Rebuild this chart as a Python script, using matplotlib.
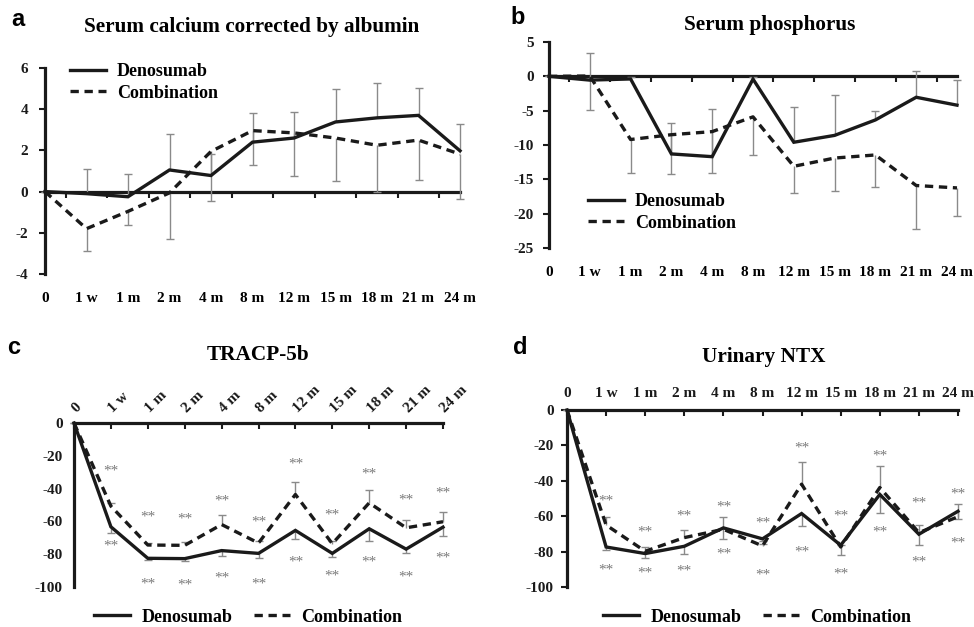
import numpy as np
import matplotlib
matplotlib.use("Agg")
import matplotlib.pyplot as plt

# ---------------- data ----------------
timepoints = ["0", "1 w", "1 m", "2 m", "4 m", "8 m", "12 m", "15 m", "18 m", "21 m", "24 m"]

# (a) Serum calcium corrected by albumin
ca_den = [0, -0.1, -0.25, 1.05, 0.78, 2.4, 2.6, 3.38, 3.58, 3.7, 1.98]
ca_comb = [0, -1.8, -0.96, -0.06, 1.95, 2.96, 2.85, 2.6, 2.25, 2.5, 1.82]
ca_den_sd = [0, 1.2, 1.1, 1.73, 1.06, 1.42, 1.25, 1.62, 1.7, 1.33, 1.32]
ca_comb_sd = [0, 1.08, 0.66, 2.24, 2.42, 1.68, 2.07, 2.1, 2.25, 1.95, 2.19]

# (b) Serum phosphorus
p_den = [0, -0.55, -0.38, -11.3, -11.7, -0.4, -9.6, -8.6, -6.35, -3.05, -4.2]
p_comb = [0, 0.05, -9.2, -8.5, -8.05, -5.9, -13.1, -11.9, -11.45, -15.9, -16.25]
p_den_sd = [0, 3.9, 0.3, 4.5, 7.0, 0.3, 5.1, 5.9, 1.35, 3.8, 3.7]
p_comb_sd = [0, 4.95, 4.85, 5.7, 6.05, 5.5, 3.9, 4.8, 4.6, 6.3, 4.15]

# (c) TRACP-5b
tr_den = [0, -63.3, -82.5, -82.7, -77.8, -79.5, -65.5, -79.5, -64.5, -76.9, -63.5]
tr_comb = [0, -50.7, -74.4, -74.6, -61.9, -73.2, -43.6, -73.6, -48.7, -63.9, -60.2]
tr_den_sd = [0, 3.5, 0.8, 1.5, 3.0, 2.6, 5.2, 2.0, 7.5, 2.3, 5.5]
tr_comb_sd = [0, 2.0, 1.5, 2.2, 5.7, 1.5, 7.7, 1.5, 8.1, 4.7, 6.1]
tr_sig_hi = [None, -29.4, -57.2, -58.4, -47.7, -60.5, -24.8, -56.4, -31.4, -46.7, -43.0]
tr_sig_lo = [None, -75.1, -98.5, -99.0, -94.3, -97.9, -84.5, -93.3, -84.5, -93.9, -82.1]

# (d) Urinary NTX
ntx_den = [0, -77.4, -81.1, -77.0, -66.6, -72.8, -58.5, -76.4, -47.7, -70.2, -57.2]
ntx_comb = [0, -65.0, -79.8, -72.1, -67.4, -76.8, -41.9, -77.4, -43.8, -69.3, -60.3]
ntx_den_sd = [0, 1.8, 2.5, 4.1, 6.0, 1.0, 7.0, 5.7, 10.6, 5.9, 4.4]
ntx_comb_sd = [0, 4.3, 2.4, 4.2, 7.0, 1.0, 12.6, 1.0, 12.3, 4.6, 7.1]
ntx_sig_hi = [None, -51.3, -68.9, -60.1, -54.9, -64.1, -21.3, -60.1, -25.9, -52.5, -47.5]
ntx_sig_lo = [None, -90.2, -91.9, -91.1, -81.5, -93.1, -80.2, -92.5, -68.9, -85.8, -75.1]

series_names = ["Denosumab", "Combination"]
titles = ["Serum calcium corrected by albumin", "Serum phosphorus", "TRACP-5b", "Urinary NTX"]
panel_letters = ["a", "b", "c", "d"]

# ---------------- style ----------------
W, H = 974, 627
SERIF = ["Liberation Serif", "DejaVu Serif"]
SANS = ["Liberation Sans", "DejaVu Sans"]
LINE_C = "#1a1a1a"
ERR_C = "#8a8a8a"
STAR_C = "#7a7a7a"
LW = 2.4
DASH = (2.5, 1.7)
TICK_FS = 11
LEG_FS = 13
TITLE_FS = 15.3

plt.rcParams["font.family"] = SERIF
plt.rcParams["font.weight"] = "bold"

fig = plt.figure(figsize=(W / 100, H / 100), dpi=100)


def fx(px):
    return px / W


def fy(py):
    return 1 - py / H


def add_ax(x0, x1, ytop, ybot):
    return fig.add_axes([fx(x0), fy(ybot), fx(x1) - fx(x0), (ybot - ytop) / H])


x = np.arange(len(timepoints))
LEG_PROP = {"family": SERIF, "weight": "bold", "size": LEG_FS}


def draw_err(ax, vals, sds, direction):
    vals = np.asarray(vals, float)
    sds = np.asarray(sds, float)
    ends = vals + direction * sds
    ax.vlines(x, vals, ends, colors=ERR_C, linewidth=1.0, zorder=2, clip_on=False)
    ax.plot(x, ends, linestyle="none", marker="_", markersize=6, markeredgewidth=1.0,
            color=ERR_C, zorder=2, clip_on=False)


def draw_lines(ax, den, comb):
    l1, = ax.plot(x, den, color=LINE_C, lw=LW, zorder=4, clip_on=False,
                  solid_joinstyle="miter")
    l2, = ax.plot(x, comb, color=LINE_C, lw=LW, zorder=4, clip_on=False,
                  linestyle=(0, DASH))
    return l1, l2


def style_yaxis(ax, ticks, ticklen=4, pad=3):
    ax.set_yticks(ticks)
    ax.set_yticklabels([str(t) for t in ticks], fontsize=TICK_FS, fontweight="bold")
    ax.tick_params(axis="y", direction="out", length=ticklen, width=1.5, pad=pad, colors=LINE_C)
    ax.spines["left"].set_linewidth(2.3)
    ax.spines["left"].set_color(LINE_C)
    ax.spines["right"].set_visible(False)


def bottom_label_panel(ax, ymin, ymax):
    # category labels at the bottom, zero line with boundary ticks
    ax.set_xlim(0, 10)
    ax.set_ylim(ymin, ymax)
    ax.spines["top"].set_visible(False)
    ax.spines["bottom"].set_visible(False)
    ax.set_xticks(x)
    ax.set_xticklabels(timepoints, fontsize=TICK_FS, fontweight="bold")
    ax.tick_params(axis="x", length=0, pad=13)
    loc = (0 - ymin) / (ymax - ymin)
    sec = ax.secondary_xaxis(loc)
    sec.set_alignment("bottom")
    sec.set_xticks(np.arange(0.5, 10, 1.0))
    sec.tick_params(axis="x", direction="out", length=4, width=1.5, labelbottom=False,
                    labeltop=False, colors=LINE_C)
    sec.spines["bottom"].set_linewidth(2.3)
    sec.spines["bottom"].set_color(LINE_C)
    ax.patch.set_alpha(0)


def top_label_panel(ax, rotate, pad):
    ax.set_xlim(0, 10)
    ax.set_ylim(-100, 0)
    ax.spines["bottom"].set_visible(False)
    ax.spines["top"].set_linewidth(2.3)
    ax.spines["top"].set_color(LINE_C)
    ax.xaxis.tick_top()
    ax.set_xticks(x)
    if rotate:
        ax.set_xticklabels(timepoints, fontsize=TICK_FS, fontweight="bold", rotation=45,
                           ha="left", va="center", rotation_mode="anchor")
    else:
        ax.set_xticklabels(timepoints, fontsize=TICK_FS, fontweight="bold")
    ax.tick_params(axis="x", direction="in", length=4, width=1.5, pad=pad, colors=LINE_C)
    ax.patch.set_alpha(0)


def stars(ax, hi, lo):
    for i in range(len(x)):
        for v in (hi[i], lo[i]):
            if v is not None:
                ax.text(x[i], v, "**", ha="center", va="center", fontsize=11,
                        color=STAR_C, fontweight="normal", clip_on=False)


# ---------------- panel a ----------------
axa = add_ax(45, 460, 68, 274)
bottom_label_panel(axa, -4, 6)
style_yaxis(axa, [-4, -2, 0, 2, 4, 6], pad=8)
draw_err(axa, ca_den, ca_den_sd, +1)
draw_err(axa, ca_comb, ca_comb_sd, -1)
la1, la2 = draw_lines(axa, ca_den, ca_comb)
axa.legend([la1, la2], series_names, loc="upper left",
           bbox_to_anchor=((70 - 45) / 415, (274 - 63) / 206),
           frameon=False, prop=LEG_PROP, borderaxespad=0,
           handlelength=2.0, handletextpad=0.6, labelspacing=0.25, borderpad=0)

# ---------------- panel b ----------------
axb = add_ax(549, 957, 42, 248)
bottom_label_panel(axb, -25, 5)
style_yaxis(axb, [-25, -20, -15, -10, -5, 0, 5], pad=7)
draw_err(axb, p_den, p_den_sd, +1)
draw_err(axb, p_comb, p_comb_sd, -1)
lb1, lb2 = draw_lines(axb, p_den, p_comb)
axb.legend([lb1, lb2], series_names, loc="upper left",
           bbox_to_anchor=((588 - 549) / 408, (248 - 193) / 206),
           frameon=False, prop=LEG_PROP, borderaxespad=0,
           handlelength=2.0, handletextpad=0.6, labelspacing=0.25, borderpad=0)

# ---------------- panel c ----------------
axc = add_ax(74, 443, 423, 587)
top_label_panel(axc, True, 9)
style_yaxis(axc, [-100, -80, -60, -40, -20, 0], ticklen=0, pad=8)
draw_err(axc, tr_den, tr_den_sd, -1)
draw_err(axc, tr_comb, tr_comb_sd, +1)
lc1, lc2 = draw_lines(axc, tr_den, tr_comb)
stars(axc, tr_sig_hi, tr_sig_lo)

# ---------------- panel d ----------------
axd = add_ax(567, 958, 410, 587)
top_label_panel(axd, False, 7)
style_yaxis(axd, [-100, -80, -60, -40, -20, 0], pad=5.5)
draw_err(axd, ntx_den, ntx_den_sd, -1)
draw_err(axd, ntx_comb, ntx_comb_sd, +1)
ld1, ld2 = draw_lines(axd, ntx_den, ntx_comb)
stars(axd, ntx_sig_hi, ntx_sig_lo)

for lines, xc in [((lc1, lc2), 248), ((ld1, ld2), 757)]:
    fig.legend(list(lines), series_names, loc="center", bbox_to_anchor=(fx(xc), fy(617)),
               ncol=2, frameon=False, prop=LEG_PROP, borderaxespad=0,
               handlelength=2.0, handletextpad=0.6, columnspacing=1.2, borderpad=0)

# ---------------- titles and letters ----------------
title_pos = [(252, 27), (770, 25), (258, 355), (764, 357)]
letter_pos = [(18, 20), (518, 18), (14, 347), (520, 348)]
for t, (tx, ty) in zip(titles, title_pos):
    fig.text(fx(tx), fy(ty), t, ha="center", va="center", fontsize=TITLE_FS,
             fontweight="bold", family=SERIF)
for lt, (lx, ly) in zip(panel_letters, letter_pos):
    fig.text(fx(lx), fy(ly), lt, ha="center", va="center", fontsize=17,
             fontweight="bold", family=SANS)

fig.savefig("out.png", dpi=100)
